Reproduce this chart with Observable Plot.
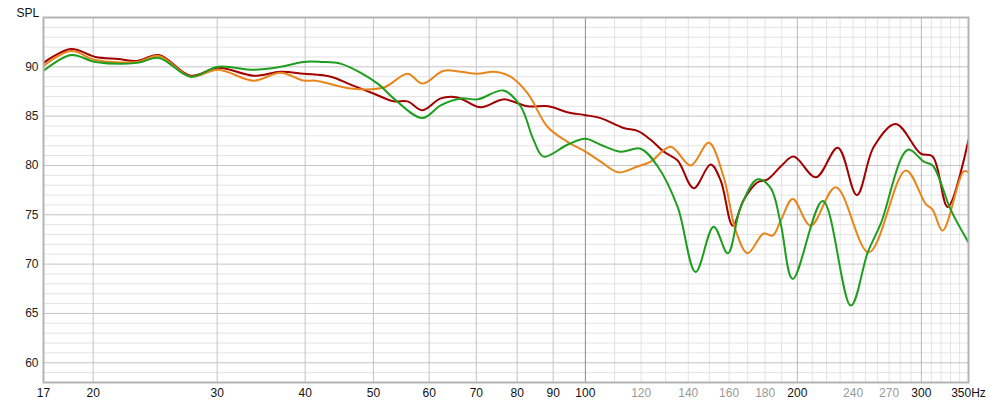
<!DOCTYPE html>
<html>
<head>
<meta charset="utf-8">
<script src="https://cdn.jsdelivr.net/npm/d3@7"></script>
<script src="https://cdn.jsdelivr.net/npm/@observablehq/plot@0.6"></script>
<style>
  body { margin: 0; background: #fff; }
  #plot-region svg { display: block; }
</style>
</head>
<body>
<div id="plot-region"></div>
<script>
// frequency (Hz) / level (dB SPL)
const redFreq = [17, 18.6, 20.15, 21.7, 23.1, 24.8, 27.5, 30.1, 33.8, 36.9, 39.8, 43.5, 46.4, 50.0, 53.4, 55.9, 58.7, 62.3, 65.8, 71.0, 76.5, 82.8, 88.6, 94.3, 100, 105.1, 113.3, 118.6, 123.8, 129.2, 135.2, 142.5, 150.6, 155.6, 161.9, 167.8, 175.6, 181.5, 189.4, 197.6, 212.5, 228.3, 242.9, 256.8, 275.9, 299.4, 311.3, 327.0, 350];
const redSpl = [90.4, 91.8, 91.0, 90.8, 90.6, 91.2, 89.1, 89.9, 89.1, 89.5, 89.3, 89.0, 88.2, 87.3, 86.5, 86.5, 85.6, 86.8, 86.9, 85.9, 86.7, 86.0, 86.0, 85.4, 85.1, 84.8, 83.8, 83.5, 82.6, 81.4, 80.5, 77.7, 80.1, 78.5, 73.9, 76.5, 78.3, 78.6, 79.9, 80.9, 78.8, 81.8, 77.0, 81.9, 84.2, 81.2, 80.9, 75.8, 82.6];

const orangeFreq = [17, 18.6, 20.15, 23.1, 24.8, 27.5, 30.1, 33.8, 36.9, 39.8, 41.4, 46.4, 51.7, 55.9, 58.7, 62.9, 66.5, 70.3, 74.1, 78.3, 82.8, 88.4, 94.3, 100, 105.1, 111.5, 118.6, 123.8, 132.2, 141.1, 149.7, 157.2, 163.5, 170.0, 179.1, 184.5, 189.4, 197.0, 208.9, 226.8, 252.6, 285.1, 304.3, 311.3, 321.6, 344.6, 350];
const orangeSpl = [90.1, 91.6, 90.7, 90.5, 91.1, 89.0, 89.7, 88.6, 89.4, 88.6, 88.6, 87.8, 87.9, 89.3, 88.3, 89.6, 89.5, 89.3, 89.5, 89.0, 87.3, 83.9, 82.4, 81.4, 80.4, 79.3, 79.9, 80.4, 81.9, 80.0, 82.3, 78.8, 73.4, 71.1, 73.1, 72.9, 74.4, 76.6, 73.9, 77.8, 71.2, 79.5, 76.1, 75.5, 73.4, 79.4, 79.3];

const greenFreq = [17, 18.6, 20.15, 23.1, 24.8, 27.5, 30.1, 33.8, 36.9, 39.8, 42.1, 45.0, 50.7, 53.4, 58.7, 62.3, 66.5, 70.3, 76.5, 80.9, 84.4, 87.2, 94.3, 100, 105.1, 112.2, 119.8, 126.7, 135.2, 143.4, 152.1, 159.3, 166.2, 175.6, 183.3, 189.4, 197.0, 217.3, 238.2, 251.8, 262.7, 287.0, 302.3, 311.3, 330.3, 350];
const greenSpl = [89.6, 91.2, 90.5, 90.4, 90.9, 89.0, 90.0, 89.7, 90.0, 90.5, 90.5, 90.3, 88.3, 86.8, 84.8, 86.1, 86.8, 86.7, 87.6, 86.0, 82.6, 80.9, 82.1, 82.7, 82.1, 81.4, 81.7, 79.9, 75.8, 69.2, 73.8, 71.1, 75.8, 78.6, 77.7, 74.1, 68.5, 76.4, 65.8, 71.2, 74.1, 81.6, 80.4, 80.0, 75.5, 72.2];

const seriesNames = ["trace 1", "trace 2", "trace 3"];
const seriesColors = ["#a30000", "#e8861c", "#1e9e1e"];

// axis ticks
const majorFreqTicks = [17, 20, 30, 40, 50, 60, 70, 80, 90, 100, 200, 300];
const minorFreqTicks = [120, 140, 160, 180, 240, 270];
const splTicks = [60, 65, 70, 75, 80, 85, 90];

const gridDecade = [20, 30, 40, 50, 60, 70, 80, 90];
const gridFine = [110, 120, 130, 140, 150, 160, 170, 180, 190, 210, 220, 230, 240, 250, 260, 270, 280, 290, 310, 320, 330, 340];
const gridMid = [200, 300];
const gridDb = d3.range(58, 96, 1);

function toRows(name, freqs, spls) {
    return freqs.map((f, i) => ({ series: name, freq: f, spl: spls[i] }));
}

const rows = [
    ...toRows(seriesNames[0], redFreq, redSpl),
    ...toRows(seriesNames[1], orangeFreq, orangeSpl),
    ...toRows(seriesNames[2], greenFreq, greenSpl)
];

const font = "'Liberation Sans', Arial, sans-serif";

let chart = Plot.plot({
    width: 990,
    height: 406,
    marginLeft: 43,
    marginRight: 22,
    marginTop: 17,
    marginBottom: 24,
    style: { fontFamily: font, fontSize: "12px", background: "#fff", color: "#222" },
    x: { type: "log", domain: [17, 350], axis: null },
    y: { domain: [58, 95], axis: null },
    color: { type: "ordinal", domain: seriesNames, range: seriesColors },
    marks: [
        Plot.ruleY(gridDb.filter(d => d % 5 !== 0), { stroke: "#e3e3e3", strokeWidth: 1 }),
        Plot.ruleX(gridFine, { stroke: "#e3e3e3", strokeWidth: 1 }),
        Plot.ruleY(gridDb.filter(d => d % 5 === 0), { stroke: "#c4c4c4", strokeWidth: 1 }),
        Plot.ruleX(gridDecade, { stroke: "#c4c4c4", strokeWidth: 1 }),
        Plot.ruleX(gridMid, { stroke: "#b8b8b8", strokeWidth: 1 }),
        Plot.ruleX([100], { stroke: "#8a8a8a", strokeWidth: 1 }),

        Plot.line(rows, { x: "freq", y: "spl", z: "series", stroke: "series", strokeWidth: 2, curve: "catmull-rom", clip: true }),

        Plot.frame({ stroke: "#b4b4b4", strokeWidth: 2 }),

        Plot.text(splTicks, { x: null, y: d => d, frameAnchor: "left", dx: -5, textAnchor: "end", text: d => `${d}`, fill: "#222" }),
        Plot.text(majorFreqTicks, { x: d => d, frameAnchor: "bottom", dy: 14, text: d => `${d}`, fill: "#111" }),
        Plot.text(minorFreqTicks, { x: d => d, frameAnchor: "bottom", dy: 14, text: d => `${d}`, fill: "#999" }),
        Plot.text(["350Hz"], { x: [350], frameAnchor: "bottom", dy: 14, text: d => d, fill: "#111" }),
        Plot.text(["SPL"], { frameAnchor: "top-left", dx: -27, dy: -9, textAnchor: "start", text: d => d, fill: "#111" })
    ]
});

let plot = document.getElementById("plot-region");
plot.innerHTML = "";
plot.append(chart);
</script>
</body>
</html>
